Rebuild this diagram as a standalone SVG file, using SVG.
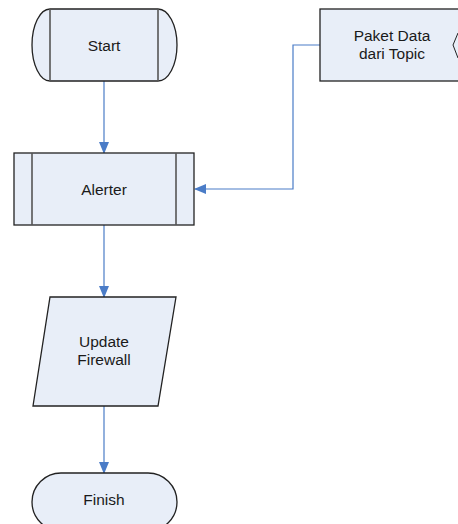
<svg xmlns="http://www.w3.org/2000/svg" width="458" height="524" viewBox="0 0 458 524">
<defs>
<style>
.shape{fill:#e8eef8;stroke:#222;stroke-width:1.3}
.inner{fill:none;stroke:#555;stroke-width:1.6}
.lbl{font-family:"Liberation Sans",Arial,sans-serif;font-size:15.5px;fill:#1a1a1a;text-anchor:middle}
.conn{fill:none;stroke:#4a7cc7;stroke-width:1.2}
</style>
<marker id="arr" markerWidth="12" markerHeight="10" refX="11" refY="5" orient="auto" markerUnits="userSpaceOnUse">
<path d="M0,0 L12,5 L0,10 Z" fill="#4a7cc7"/>
</marker>
</defs>
<rect width="458" height="524" fill="#ffffff"/>
<g id="connectors">
<line class="conn" x1="104" y1="81" x2="104" y2="153" marker-end="url(#arr)"/>
<line class="conn" x1="104" y1="225" x2="104" y2="297" marker-end="url(#arr)"/>
<line class="conn" x1="104" y1="406" x2="104" y2="473" marker-end="url(#arr)"/>
<polyline class="conn" points="320,45 293,45 293,189 195,189" marker-end="url(#arr)"/>
</g>
<g id="start">
<path class="shape" d="M50,9 L158,9 A19,36 0 0 1 158,81 L50,81 A18,36 0 0 1 50,9 Z"/>
<line class="inner" x1="50" y1="9" x2="50" y2="81"/>
<line class="inner" x1="158" y1="9" x2="158" y2="81"/>
<text class="lbl" x="104" y="50.5">Start</text>
</g>
<g id="paket">
<rect class="shape" x="320" y="9" width="150" height="72"/>
<polyline fill="none" stroke="#222" stroke-width="1" points="458,33 453,45 458,58"/>
<text class="lbl" x="392" y="41">Paket Data</text>
<text class="lbl" x="392" y="59">dari Topic</text>
</g>
<g id="alerter">
<rect class="shape" x="14" y="153" width="180" height="72"/>
<line class="inner" x1="32" y1="153" x2="32" y2="225"/>
<line class="inner" x1="176" y1="153" x2="176" y2="225"/>
<text class="lbl" x="104" y="194.5">Alerter</text>
</g>
<g id="update">
<polygon class="shape" points="50,297 176,297 158,406 33,406"/>
<text class="lbl" x="104" y="347">Update</text>
<text class="lbl" x="104" y="365">Firewall</text>
</g>
<g id="finish">
<rect class="shape" x="32" y="473" width="145" height="58" rx="29" ry="29"/>
<text class="lbl" x="104" y="505">Finish</text>
</g>
</svg>
